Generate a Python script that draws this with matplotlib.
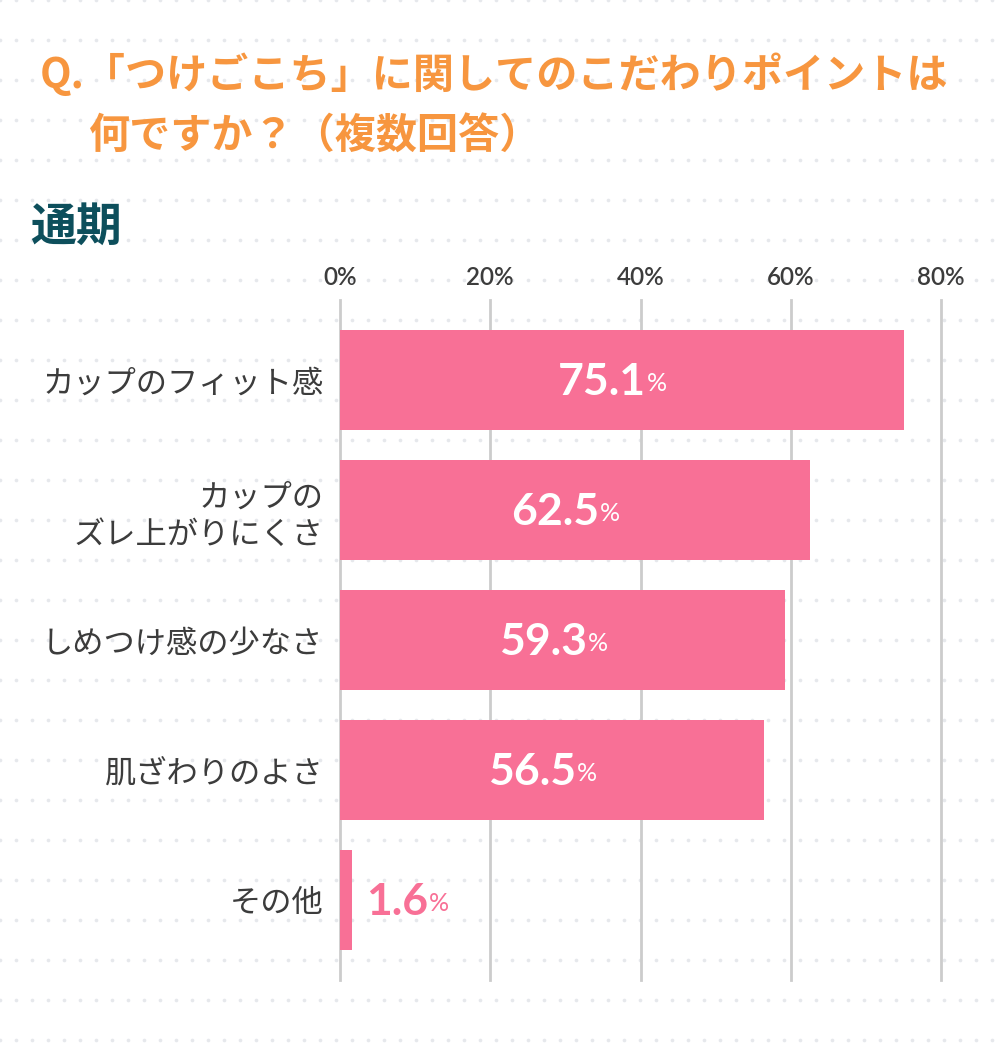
import numpy as np
import matplotlib
matplotlib.use("Agg")
import matplotlib.pyplot as plt
from matplotlib.transforms import offset_copy

plt.rcParams['font.family'] = ['Noto Sans CJK JP', 'DejaVu Sans']

# データ
categories = ['カップのフィット感', 'カップの\nズレ上がりにくさ', 'しめつけ感の少なさ',
              '肌ざわりのよさ', 'その他']
values = [75.1, 62.5, 59.3, 56.5, 1.6]
ticks = [0, 20, 40, 60, 80]
tick_labels = ['0%', '20%', '40%', '60%', '80%']

title1 = 'Q.「つけごこち」に関してのこだわりポイントは'
title2 = '何ですか？（複数回答）'
subtitle = '通期'

pink = '#f87096'
orange = '#f7963f'
teal = '#0d4f5c'
textc = '#3c3c3c'

W, H = 1000, 1050
fig = plt.figure(figsize=(W / 100, H / 100), dpi=100)

# 背景のドット
bg = fig.add_axes([0, 0, 1, 1])
bg.set_xlim(0, W)
bg.set_ylim(H, 0)
bg.axis('off')
dx, dy = np.meshgrid(np.arange(0, W + 1, 16), np.arange(0, H + 1, 40))
bg.scatter(dx.ravel(), dy.ravel(), s=7, color='#e6e8ec', linewidths=0, zorder=0)

# タイトル
fig.text(40 / W, 1 - 75 / H, title1, fontsize=29.6, fontweight='bold', color=orange, va='center')
fig.text(88 / W, 1 - 137 / H, title2, fontsize=29.6, fontweight='bold', color=orange, va='center')
fig.text(30 / W, 1 - 228 / H, subtitle, fontsize=33, fontweight='bold', color=teal, va='center')

# 棒グラフ
left, right = 340, 941
top, bottom = 300, 980
ax = fig.add_axes([left / W, 1 - bottom / H, (right - left) / W, (bottom - top) / H])
ax.patch.set_alpha(0)
pos = np.arange(len(categories))
ax.set_xlim(0, 80)
ax.set_ylim(4 + 80 / 130, -80 / 130)
for t in ticks:
    ax.axvline(t, color='#cccccc', lw=2, zorder=1, clip_on=False)
ax.barh(pos, values, height=100 / 130, color=pink, zorder=2)

for s in ax.spines.values():
    s.set_visible(False)
ax.set_xticks(ticks)
ax.set_xticklabels(tick_labels, family=['Lato', 'DejaVu Sans'], fontsize=17.5,
                   fontweight='semibold', color=textc)
ax.xaxis.tick_top()
ax.tick_params(axis='x', length=0, pad=8)
ax.set_yticks(pos)
ax.set_yticklabels(categories, fontsize=22.5, color=textc, linespacing=1.2)
ax.tick_params(axis='y', length=0, pad=12)

fig.canvas.draw()
renderer = fig.canvas.get_renderer()
for p, v in zip(pos, values):
    if v > 10:
        col = 'white'
        t = ax.text(v / 2, p, f'{v:.1f}', ha='center', va='center', fontsize=32,
                    fontweight='bold', color=col, family=['Lato', 'DejaVu Sans'],
                    transform=offset_copy(ax.transData, fig=fig, x=-20, y=-2, units='dots'))
    else:
        col = pink
        t = ax.text(v, p, f'{v:.1f}', ha='left', va='center', fontsize=32,
                    fontweight='bold', color=col, family=['Lato', 'DejaVu Sans'],
                    transform=offset_copy(ax.transData, fig=fig, x=14, y=-2, units='dots'))
    bb = t.get_window_extent(renderer)
    ax.annotate('%', xy=(bb.x1 + 1, bb.y0 + 7), xycoords='figure pixels', fontsize=18,
                color=col, ha='left', va='bottom', family=['Lato', 'DejaVu Sans'])

fig.savefig('out.png', dpi=100)
